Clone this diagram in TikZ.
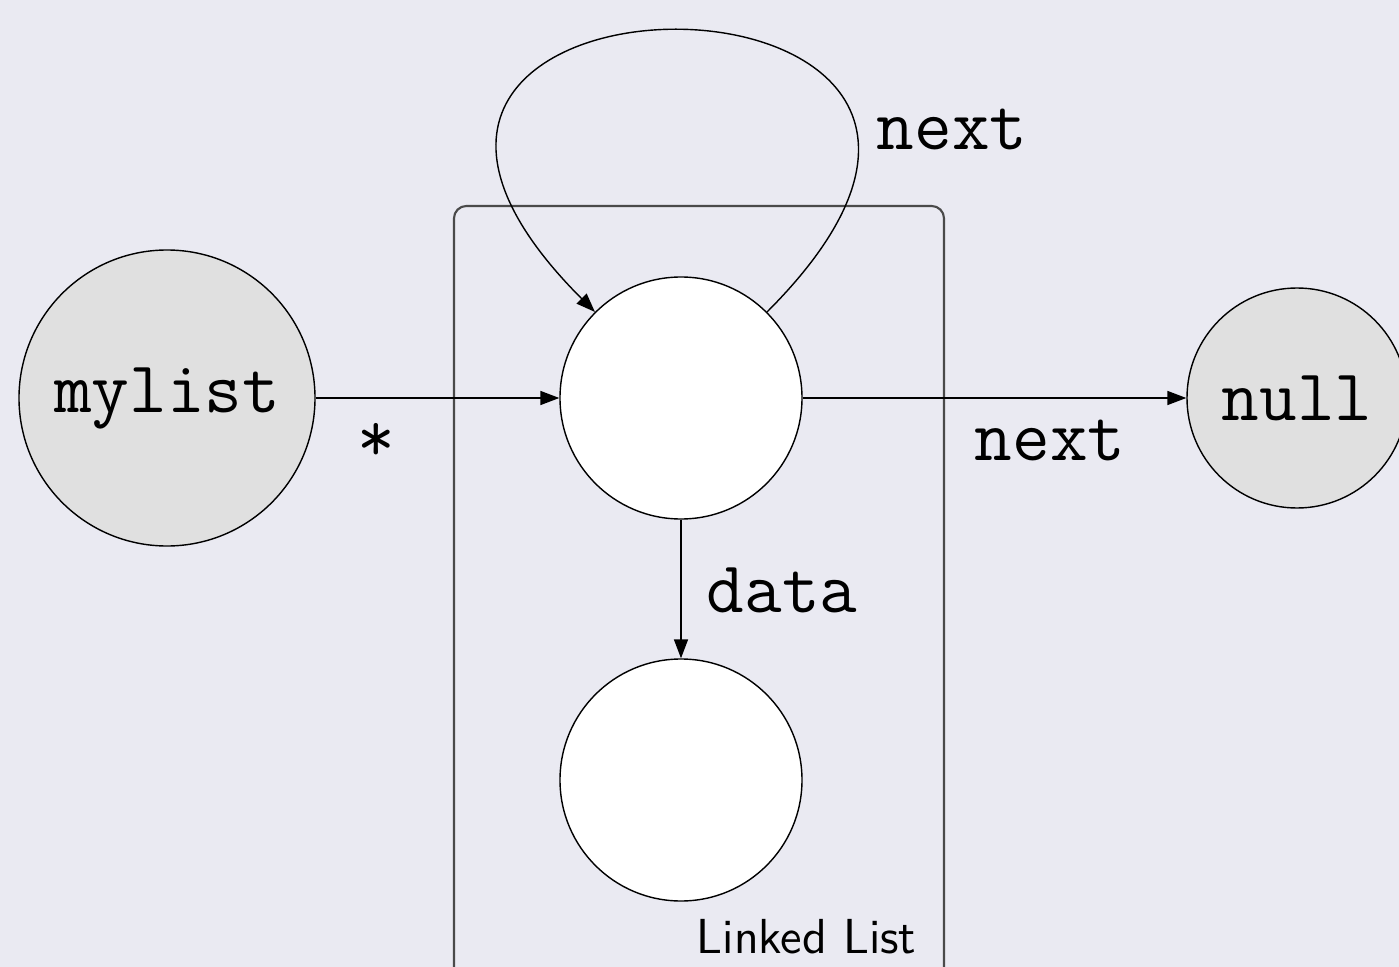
\documentclass[tikz,border=0pt]{standalone}
\usetikzlibrary{arrows.meta}
\definecolor{bgcol}{HTML}{EAEAF2}
\definecolor{obsgray}{HTML}{E0E0E0}
\definecolor{platecol}{HTML}{4A4A4A}
\tikzset{
  varnode/.style={circle,draw=black,line width=0.4pt,fill=white,inner sep=0pt,
    font=\fontsize{20.8}{25}\selectfont\ttfamily},
  obsnode/.style={varnode,fill=obsgray},
  edgearrow/.style={-{Triangle[length=5.4pt,width=4pt]},line width=0.4pt},
  edgelabel/.style={font=\fontsize{20.8}{25}\selectfont\ttfamily},
}
\begin{document}
\begin{tikzpicture}
\fill[bgcol] (0,0) rectangle (13.99,-9.67);
\clip (0,0) rectangle (13.99,-9.67);
% plate
\draw[platecol,line width=0.6pt,rounded corners=3.5pt] (4.54,-11) -- (4.54,-2.06) -- (9.44,-2.06) -- (9.44,-11);
\node[font=\fontsize{14}{17}\selectfont\sffamily,anchor=base east,inner sep=0pt] (platelabel) at (9.17,-9.53) {Linked List};
% nodes
\node[obsnode,minimum size=2.96cm] (mylist) at (1.67,-3.98) {mylist};
\node[varnode,minimum size=2.42cm] (item) at (6.81,-3.98) {};
\node[varnode,minimum size=2.42cm] (data) at (6.81,-7.80) {};
\node[obsnode,minimum size=2.20cm] (null) at (12.97,-3.98) {null};
% edges
\draw[edgearrow] (mylist) -- (item);
\draw[edgearrow] (item) -- (null);
\draw[edgearrow] (item) -- (data);
\draw[edgearrow] (item) to[out=45,in=135,distance=5.3cm] (item);
% edge labels
\node[edgelabel] (starlabel) at (3.76,-4.42) {*};
\node[edgelabel] (nextlabel) at (10.50,-4.40) {next};
\node[edgelabel] (datalabel) at (7.82,-5.90) {data};
\node[edgelabel] (looplabel) at (9.52,-1.29) {next};
\end{tikzpicture}
\end{document}
